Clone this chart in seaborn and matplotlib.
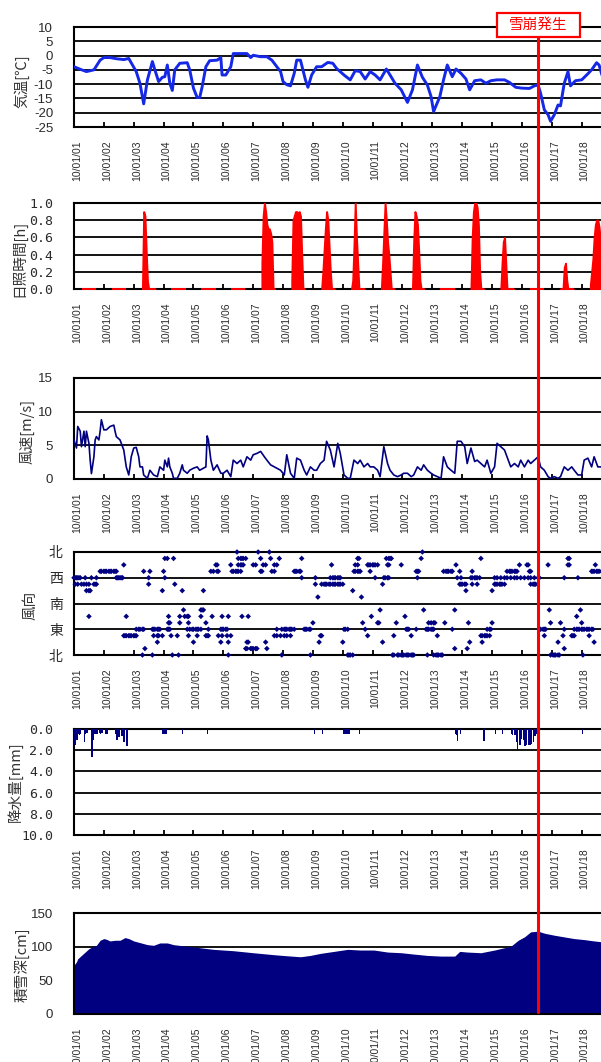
import numpy as np
import pandas as pd
import matplotlib
matplotlib.use("Agg")
import matplotlib.pyplot as plt
import matplotlib.transforms as mtrans
from matplotlib.lines import Line2D
from matplotlib.patches import Rectangle
import seaborn as sns

# ---------------- data (hours since 2010-01-01 00:00) ----------------
date_labels = ["10/01/01", "10/01/02", "10/01/03", "10/01/04", "10/01/05", "10/01/06",
               "10/01/07", "10/01/08", "10/01/09", "10/01/10", "10/01/11", "10/01/12",
               "10/01/13", "10/01/14", "10/01/15", "10/01/16", "10/01/17", "10/01/18"]
tick_hours = [0, 24, 48, 72, 96, 120, 144, 168, 192, 216, 240, 264, 288, 312, 336, 360, 384, 408]
event_hour = 373
event_label = "雪崩発生"

temp_h = [0, 5, 10, 16, 21, 24, 29, 34, 40, 44, 47, 50, 53, 56, 59, 63, 65, 68, 71, 73, 75, 77, 79,
          81, 85, 91, 93, 96, 99, 101, 103, 106, 109, 115, 118, 119, 122, 126, 128, 134, 139, 142,
          144, 150, 155, 159, 163, 166, 168, 171, 174, 177, 179, 182, 186, 188, 191, 195, 199, 204,
          208, 211, 217, 222, 226, 230, 234, 238, 242, 246, 251, 254, 258, 263, 268, 272, 276, 280,
          284, 287, 289, 294, 297, 300, 304, 307, 311, 315, 318, 322, 327, 331, 335, 340, 346, 350,
          355, 360, 366, 370, 373, 375, 378, 381, 383, 386, 389, 391, 394, 397, 399, 403, 408, 412,
          416, 420, 422, 425]
temp_v = [-3.9, -4.8, -5.6, -5.0, -1.6, -0.7, -0.7, -1.1, -1.4, -1.0, -3.3, -5.6, -9.7, -16.9, -8.5,
          -2.1, -5.0, -9.1, -7.6, -7.4, -3.3, -9.7, -12.2, -5.0, -2.7, -2.5, -5.0, -11.4, -14.7, -14.7,
          -10.9, -3.9, -1.8, -1.6, -0.7, -6.8, -6.8, -3.9, 0.7, 0.7, 0.7, -0.7, 0.1, -0.4, -0.4, -1.6,
          -3.9, -5.6, -9.1, -10.2, -10.6, -6.2, -1.6, -1.6, -8.5, -11.1, -6.8, -3.9, -3.9, -2.4, -2.7,
          -4.5, -6.8, -8.5, -5.3, -5.6, -8.2, -5.6, -6.8, -8.5, -4.7, -6.8, -9.7, -12.0, -16.4, -12.0,
          -3.3, -7.6, -10.3, -14.4, -19.6, -14.4, -8.5, -3.3, -7.4, -4.7, -6.2, -8.2, -12.0, -8.8, -8.5,
          -9.7, -8.8, -8.5, -8.5, -9.4, -11.1, -11.4, -11.5, -10.6, -10.3, -13.2, -19.0, -20.7, -23.0,
          -20.7, -17.3, -17.6, -9.7, -5.6, -10.6, -8.8, -8.5, -6.8, -5.0, -2.5, -3.3, -7.9]

sun_hours = [7, 8, 9, 10, 11, 12, 13, 14, 15, 16, 17]
sun_by_day = [
    [0, 0, 0, 0, 0, 0, 0, 0, 0, 0, 0],
    [0, 0, 0, 0, 0, 0, 0, 0, 0, 0, 0],
    [0, 0.9, 0.85, 0.45, 0.1, 0, 0, 0, 0, 0, 0],
    [0, 0, 0, 0, 0, 0, 0, 0, 0, 0, 0],
    [0, 0, 0, 0, 0, 0, 0, 0, 0, 0, 0],
    [0, 0, 0, 0, 0, 0, 0, 0, 0, 0, 0],
    [0.3, 0.85, 1.0, 0.9, 0.75, 0.7, 0.7, 0.65, 0.55, 0, 0],
    [0.1, 0.8, 0.85, 0.9, 0.9, 0.88, 0.9, 0.85, 0.4, 0, 0],
    [0, 0.2, 0.45, 0.7, 0.9, 0.8, 0.5, 0.2, 0, 0, 0],
    [0, 0.1, 0.5, 1.0, 0.6, 0.3, 0, 0, 0, 0, 0],
    [0, 0.3, 0.65, 1.0, 0.8, 0.55, 0.4, 0.2, 0, 0, 0],
    [0, 0, 0.55, 0.9, 0.85, 0.75, 0.45, 0.1, 0, 0, 0],
    [0, 0, 0, 0, 0, 0, 0, 0, 0, 0, 0],
    [0, 0.6, 0.9, 1.0, 1.0, 0.95, 0.75, 0.2, 0, 0, 0],
    [0, 0.3, 0.55, 0.6, 0.3, 0, 0, 0, 0, 0, 0],
    [0, 0, 0, 0, 0, 0, 0, 0, 0, 0, 0],
    [0, 0, 0, 0.25, 0.3, 0.1, 0, 0, 0, 0, 0],
    [0.05, 0.2, 0.35, 0.6, 0.75, 0.8, 0.8, 0.72, 0.55, 0.4, 0],
]

wind_h = [0, 2, 3, 5, 6, 8, 9, 10, 12, 13, 14, 16, 17, 18, 20, 21, 22, 24, 26, 29, 32, 33, 34, 37,
          40, 42, 44, 45, 46, 48, 50, 52, 53, 55, 56, 59, 61, 64, 67, 69, 72, 73, 75, 76, 77, 79, 80,
          83, 85, 87, 88, 91, 93, 96, 99, 101, 104, 106, 107, 108, 110, 112, 115, 118, 120, 123, 126,
          128, 131, 134, 136, 139, 142, 144, 147, 150, 153, 155, 158, 161, 163, 166, 169, 171, 174,
          177, 179, 182, 185, 187, 190, 193, 195, 198, 201, 203, 206, 209, 212, 214, 217, 220, 222,
          225, 228, 230, 233, 236, 238, 241, 244, 246, 249, 252, 254, 257, 260, 263, 265, 268, 271,
          273, 276, 279, 281, 284, 287, 289, 292, 295, 297, 300, 303, 306, 308, 311, 314, 316, 319,
          322, 324, 327, 330, 332, 335, 338, 340, 343, 346, 348, 351, 354, 357, 359, 362, 365, 367,
          370, 373, 375, 378, 381, 383, 386, 389, 391, 394, 397, 400, 402, 405, 408, 410, 413, 416,
          418, 421, 424]
wind_v = [5.8, 4.6, 7.8, 7.1, 4.8, 7.1, 4.8, 7.1, 5.3, 2.8, 0.8, 3.3, 5.8, 6.3, 5.8, 7.1, 8.8, 7.3,
          7.3, 7.8, 8.0, 7.1, 6.3, 5.8, 4.3, 1.8, 0.6, 1.8, 3.3, 4.6, 4.7, 3.3, 1.8, 1.8, 0.6, 0.1,
          1.3, 0.6, 0.35, 1.8, 1.3, 2.8, 1.8, 3.1, 1.8, 0.85, 0.1, 0.1, 0.85, 2.1, 1.3, 0.85, 1.3,
          1.6, 1.8, 1.3, 1.6, 1.8, 6.4, 5.8, 2.8, 1.3, 2.1, 0.85, 0.85, 1.3, 0.35, 2.8, 2.3, 2.8,
          1.8, 3.3, 2.8, 3.6, 3.8, 4.1, 3.3, 2.8, 2.1, 1.8, 1.6, 1.3, 0.6, 3.6, 0.85, 0.1, 3.1, 2.8,
          1.3, 0.6, 1.8, 1.3, 1.3, 2.3, 2.8, 5.6, 4.3, 1.8, 5.3, 3.8, 0.6, 0.1, 0.1, 2.8, 2.3, 2.8,
          1.8, 2.3, 1.8, 1.8, 1.3, 0.35, 4.8, 2.3, 1.3, 0.6, 0.35, 0.6, 0.85, 0.85, 0.35, 0.6, 1.8,
          1.3, 2.1, 1.3, 0.85, 0.6, 0.35, 0.1, 3.3, 1.8, 1.3, 0.85, 5.6, 5.6, 4.8, 2.3, 4.6, 2.6,
          2.8, 2.3, 1.8, 2.8, 0.85, 1.8, 5.3, 4.8, 4.3, 3.3, 1.8, 2.3, 1.8, 2.8, 1.8, 2.8, 2.3, 2.8,
          3.3, 1.8, 1.3, 0.35, 0.1, 0.35, 0.1, 0.35, 1.8, 1.3, 1.8, 1.3, 0.6, 0.6, 2.8, 3.1, 1.8,
          3.3, 1.8, 1.8]

# wind direction: hours at which each 16-point direction was observed
dir_deg = {"N0": 0, "NNE": 22.5, "NE": 45, "ENE": 67.5, "E": 90, "ESE": 112.5, "SE": 135,
           "SSE": 157.5, "SSW": 202.5, "SW": 225, "WSW": 247.5, "W": 270, "WNW": 292.5,
           "NW": 315, "NNW": 337.5, "N360": 360}
wd_N0 = [55, 63, 79, 84, 124, 167, 190, 220, 221, 222, 224, 256, 257, 260, 261, 263, 264, 265, 267,
         268, 269, 271, 272, 273, 284, 289, 291, 292, 293, 295, 296, 383, 385, 386, 387, 389, 390, 409]
wd_NNE = [57, 138, 139, 142, 143, 144, 146, 147, 155, 306, 316, 394]
wd_NE = [67, 96, 118, 124, 139, 140, 154, 197, 216, 248, 318, 328, 389, 418]
wd_ENE = [40, 41, 42, 44, 45, 46, 48, 49, 50, 64, 67, 68, 71, 78, 83, 92, 99, 106, 107, 108, 116,
          119, 123, 126, 161, 163, 166, 169, 171, 174, 198, 199, 236, 257, 271, 292, 327, 328, 330,
          331, 332, 334, 378, 393, 400, 401, 402, 414]
wd_E = [50, 52, 53, 55, 56, 63, 64, 65, 67, 68, 69, 75, 76, 77, 91, 93, 95, 96, 98, 99, 100, 102,
        108, 118, 119, 120, 122, 123, 163, 167, 169, 170, 171, 173, 174, 175, 177, 185, 186, 187,
        189, 190, 217, 218, 220, 234, 267, 268, 269, 275, 283, 284, 285, 287, 288, 289, 304, 332,
        334, 335, 374, 375, 377, 378, 379, 394, 402, 404, 405, 406, 408, 409, 410, 412, 413, 414,
        416, 417]
wd_ESE = [76, 77, 85, 92, 106, 192, 232, 244, 245, 259, 285, 287, 289, 290, 298, 317, 336, 383,
          391, 408]
wd_SE = [12, 42, 76, 85, 89, 91, 92, 102, 111, 119, 124, 135, 140, 239, 266, 404]
wd_SSE = [88, 102, 103, 104, 246, 281, 306, 382, 407]
wd_SSW = [196, 231]
wd_SW = [10, 12, 13, 71, 87, 104, 224, 315, 336]
wd_WSW = [1, 3, 6, 8, 10, 12, 16, 17, 18, 60, 81, 194, 199, 201, 202, 203, 205, 206, 208, 209, 210,
          212, 213, 214, 216, 248, 310, 311, 312, 314, 315, 320, 324, 338, 339, 340, 342, 343, 344,
          346, 367, 369, 370, 371]
wd_W = [0, 1, 2, 3, 4, 5, 9, 14, 18, 34, 35, 36, 37, 38, 39, 60, 73, 183, 194, 206, 208, 209, 210,
        212, 213, 214, 242, 249, 250, 252, 253, 276, 308, 311, 319, 320, 322, 323, 324, 326, 338,
        340, 343, 346, 348, 351, 354, 356, 359, 362, 365, 367, 370, 373, 374, 394, 405]
wd_WNW = [21, 22, 24, 25, 26, 28, 29, 30, 32, 33, 34, 56, 61, 72, 110, 112, 115, 116, 127, 128, 130,
          131, 132, 134, 150, 151, 159, 161, 177, 178, 179, 181, 182, 225, 226, 228, 229, 230, 238,
          275, 276, 277, 297, 299, 300, 301, 303, 304, 310, 320, 348, 350, 351, 352, 354, 355, 356,
          366, 367, 416, 417, 418, 420, 421, 422, 424]
wd_NW = [40, 114, 115, 126, 132, 134, 135, 136, 144, 146, 152, 154, 161, 163, 207, 226, 228, 236,
         237, 238, 240, 241, 242, 244, 252, 253, 263, 307, 358, 364, 365, 381, 397, 398, 419]
wd_NNW = [73, 75, 80, 132, 134, 135, 136, 138, 150, 158, 165, 183, 228, 229, 251, 253, 254, 255,
          279, 327, 397, 398]
wd_N360 = [131, 148, 157, 280]
dir_tick_labels = ["北", "東", "南", "西", "北"]

prec_h = [0, 1, 2, 3, 4, 5, 8, 9, 10, 14, 15, 16, 17, 18, 20, 21, 22, 25, 26, 33, 34, 35, 36, 38,
          39, 40, 42, 71, 72, 73, 74, 87, 107, 193, 199, 216, 217, 218, 219, 220, 221, 229, 306,
          307, 308, 310, 329, 338, 344, 351, 352, 354, 355, 356, 358, 359, 361, 362, 363, 365, 366,
          367, 369, 370, 371, 373, 408]
prec_v = [1.5, 1.5, 1.0, 0.5, 0.6, 0.5, 1.2, 0.5, 0.4, 2.6, 1.0, 0.5, 0.5, 0.5, 0.4, 0.5, 0.4, 0.5,
          0.5, 0.5, 1.0, 0.8, 0.8, 0.7, 1.2, 1.2, 1.6, 0.5, 0.5, 0.5, 0.5, 0.5, 0.5, 0.5, 0.5, 0.5,
          0.5, 0.5, 0.5, 0.5, 0.5, 0.5, 0.5, 0.6, 1.1, 0.5, 1.1, 0.5, 0.5, 0.5, 0.6, 0.6, 1.2, 2.1,
          1.5, 0.9, 1.0, 1.6, 1.5, 1.5, 1.5, 1.4, 1.2, 0.7, 0.5, 1.1, 0.5]

snow_h = [0, 2, 3, 6, 9, 12, 14, 18, 21, 24, 26, 29, 33, 37, 41, 44, 48, 53, 59, 64, 69, 75, 80, 91,
          101, 112, 128, 144, 161, 171, 182, 190, 198, 209, 220, 230, 241, 252, 263, 273, 284, 295,
          306, 310, 316, 327, 338, 346, 351, 357, 362, 367, 373, 378, 386, 394, 402, 410, 418, 425]
snow_v = [72.5, 77.5, 82, 87, 92, 97, 99, 102, 109.5, 112, 111, 108.5, 109.5, 109.5, 113.5, 112,
          108.5, 106, 103, 102, 105.5, 105.5, 103, 100.5, 98.5, 96, 94, 91, 88, 86.5, 85, 87, 90, 93,
          96, 95, 95, 92, 91, 89, 87, 86, 86, 93, 92, 91, 95, 98.5, 100.5, 109.5, 114.5, 122, 123,
          120, 117, 114.5, 112, 110.5, 108.5, 107]

# ---------------- styling ----------------
sns.set_theme(style="white")
plt.rcParams["font.family"] = ["Noto Sans CJK JP", "DejaVu Sans"]
plt.rcParams["axes.unicode_minus"] = False

W, H = 601, 1062
DPI = 100
fig = plt.figure(figsize=(W / DPI, H / DPI), dpi=DPI, facecolor="white")

NAVY = "#000080"
BLUE = "#1428e6"
RED = "#ff0000"
TXT = "#2a2a2a"
XMAX = 424.5


def make_ax(top, bottom):
    return fig.add_axes([74 / W, 1 - bottom / H, 1 - 74 / W + 0.002, (bottom - top) / H])


def style(ax, yticks, ylabels, yfont="Liberation Sans", ypad=15, yfs=9.5):
    ax.set_facecolor("white")
    ax.set_xlim(0, XMAX)
    for s in ["left", "bottom", "top"]:
        ax.spines[s].set_visible(True)
        ax.spines[s].set_color("black")
        ax.spines[s].set_linewidth(1.5)
    ax.spines["right"].set_visible(False)
    ax.set_yticks(yticks)
    ax.set_yticklabels(ylabels, fontsize=yfs, color=TXT, family=yfont)
    ax.yaxis.grid(True, color="black", linewidth=1.3)
    ax.xaxis.grid(False)
    ax.set_axisbelow(True)
    ax.tick_params(axis="y", length=0, pad=ypad)
    ax.set_xticks(tick_hours)
    ax.set_xticklabels(date_labels, rotation=90, fontsize=7.5, color=TXT,
                       family="Liberation Sans")
    ax.tick_params(axis="x", direction="in", length=3.5, width=1.3, color="black",
                   pad=9.4, bottom=True)
    off = mtrans.ScaledTranslation(3 / DPI, 0, fig.dpi_scale_trans)
    for lbl in ax.get_xticklabels():
        lbl.set_transform(lbl.get_transform() + off)
    ax.set_xlabel("")
    ax.set_ylabel("")


def ylab(text, xc, yc):
    fig.text(xc / W, 1 - yc / H, text, rotation=90, ha="center", va="center",
             fontsize=10.5, color="#333333")


# 1. air temperature
ax1 = make_ax(27, 127)
sns.lineplot(x=temp_h, y=temp_v, ax=ax1, color=BLUE, linewidth=2.1, zorder=3)
ax1.set_ylim(-25, 10)
style(ax1, [-25, -20, -15, -10, -5, 0, 5, 10], ["-25", "-20", "-15", "-10", "-5", "0", "5", "10"])
ylab("気温[℃]", 22, 81)

# 2. sunshine duration
ax2 = make_ax(203, 289)
for d, vals in enumerate(sun_by_day):
    hh = [d * 24 + h for h in sun_hours]
    ax2.fill_between(hh, 0, vals, facecolor=RED, edgecolor=RED, linewidth=1.4, zorder=3)
ax2.set_ylim(0, 1.0)
style(ax2, [0, 0.2, 0.4, 0.6, 0.8, 1.0], ["0.0", "0.2", "0.4", "0.6", "0.8", "1.0"],
      yfont="DejaVu Sans Mono", yfs=9.5)
ylab("日照時間[h]", 19, 258)

# 3. wind speed
ax3 = make_ax(378, 479)
sns.lineplot(x=wind_h, y=wind_v, ax=ax3, color=NAVY, linewidth=1.2, zorder=3)
ax3.set_ylim(0, 15)
style(ax3, [0, 5, 10, 15], ["0", "5", "10", "15"])
ylab("風速[m/s]", 27, 432)

# 4. wind direction
ax4 = make_ax(552, 655)
wd_lists = {"N0": wd_N0, "NNE": wd_NNE, "NE": wd_NE, "ENE": wd_ENE, "E": wd_E, "ESE": wd_ESE,
            "SE": wd_SE, "SSE": wd_SSE, "SSW": wd_SSW, "SW": wd_SW, "WSW": wd_WSW, "W": wd_W,
            "WNW": wd_WNW, "NW": wd_NW, "NNW": wd_NNW, "N360": wd_N360}
wd_df = pd.DataFrame([(h, dir_deg[k]) for k, hs in wd_lists.items() for h in hs],
                     columns=["hour", "deg"])
sns.scatterplot(data=wd_df, x="hour", y="deg", ax=ax4, marker="D", s=8, color=NAVY,
                edgecolor="none", linewidth=0, zorder=3, clip_on=False)
ax4.set_ylim(0, 360)
style(ax4, [0, 90, 180, 270, 360], dir_tick_labels, yfont="Noto Sans CJK JP", ypad=8, yfs=10)
ylab("風向", 30, 605)

# 5. precipitation (inverted)
ax5 = make_ax(729, 835)
ax5.bar(prec_h, prec_v, width=1.0, color=NAVY, align="edge", zorder=3, linewidth=0)
ax5.set_ylim(10, 0)
style(ax5, [0, 2, 4, 6, 8, 10], ["0.0", "2.0", "4.0", "6.0", "8.0", "10.0"],
      yfont="DejaVu Sans Mono", yfs=9.5)
ylab("降水量[mm]", 15, 782)

# 6. snow depth
ax6 = make_ax(913, 1014)
ax6.fill_between(snow_h, 0, snow_v, color=NAVY, linewidth=0, zorder=2)
ax6.set_ylim(0, 150)
style(ax6, [0, 50, 100, 150], ["0", "50", "100", "150"])
ylab("積雪深[cm]", 22, 965)

# event marker (avalanche)
trans = mtrans.blended_transform_factory(ax6.transData, fig.transFigure)
fig.add_artist(Line2D([event_hour, event_hour], [1 - 36 / H, 1 - 1012 / H], transform=trans,
                      color=RED, linewidth=2.2, zorder=10))
fx = fig.transFigure.inverted().transform(ax6.transData.transform((event_hour, 0)))[0]
fig.add_artist(Rectangle((fx - 41.5 / W, 1 - 37 / H), 83 / W, 24 / H, transform=fig.transFigure,
                         facecolor="white", edgecolor=RED, linewidth=1.6, zorder=11))
fig.text(fx, 1 - 25 / H, event_label, ha="center", va="center", fontsize=10.5, color=RED,
         zorder=12)

fig.savefig("out.png", dpi=DPI, facecolor="white")
